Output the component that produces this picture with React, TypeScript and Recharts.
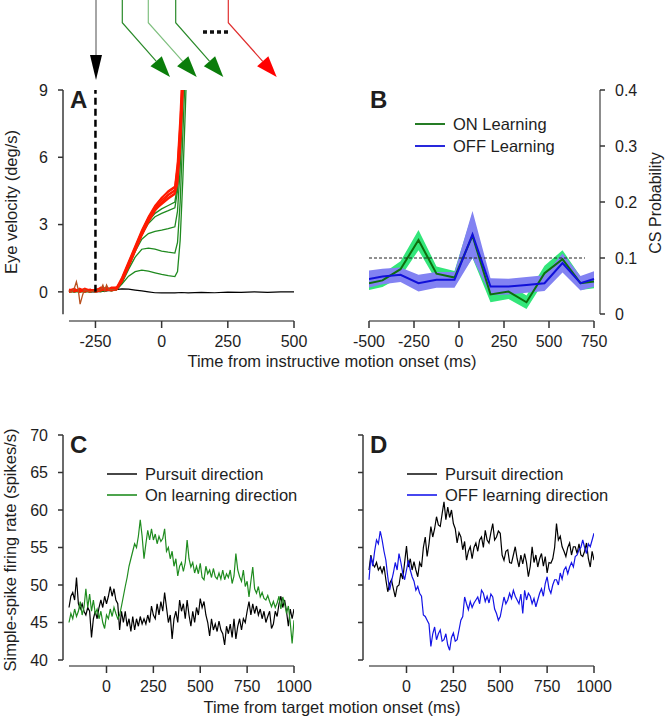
import { LineChart, Line, ComposedChart, Area, XAxis, YAxis, ReferenceLine } from 'recharts';

const FONT = '"Liberation Sans", Arial, Helvetica, sans-serif';
const INK = '#1e1e1e';
const AXIS_X = '#8a8a8a';
const AXIS_Y = '#3a3a3a';

// ---------- Panel A: eye velocity (deg/s) vs time (ms)
const tA = [-350, -330, -310, -290, -270, -250, -230, -210, -190, -170, -150, -125, -100, -75, -50, -25, 0, 25, 50, 60, 70, 80, 90, 100];
const red1 = [0.05, 0.1, 0.05, 0.1, 0.05, 0.1, 0.05, 0.15, 0.1, 0.15, 0.55, 1.25, 1.95, 2.65, 3.25, 3.75, 4.1, 4.35, 4.55, 5.3, 7.0, 9.6, 12, 14];
const red2 = [0.0, 0.05, 0.1, 0.0, 0.1, 0.05, 0.1, 0.1, 0.15, 0.1, 0.45, 1.1, 1.8, 2.5, 3.1, 3.6, 3.95, 4.2, 4.4, 5.0, 6.6, 9.2, 12, 14];
const red3 = [0.1, 0.0, 0.15, 0.05, 0.0, 0.1, 0.15, 0.05, 0.2, 0.2, 0.65, 1.35, 2.05, 2.75, 3.35, 3.85, 4.2, 4.45, 4.65, 5.6, 7.5, 10, 13, 15];
const red4 = [0.05, 0.15, 0.0, 0.1, 0.1, 0.0, 0.05, 0.2, 0.1, 0.15, 0.5, 1.2, 1.9, 2.6, 3.2, 3.7, 4.0, 4.3, 4.5, 5.2, 6.8, 9.4, 12, 14];
const red5 = [0.0, 0.05, 0.05, 0.15, 0.05, 0.1, 0.1, 0.1, 0.05, 0.1, 0.6, 1.3, 2.0, 2.7, 3.3, 3.8, 4.2, 4.5, 4.7, 5.8, 7.8, 10.5, 13, 15];
const red6 = [0.1, 0.1, 0.0, 0.05, 0.1, 0.05, 0.2, 0.15, 0.15, 0.2, 0.5, 1.15, 1.85, 2.55, 3.15, 3.65, 3.9, 4.15, 4.35, 4.8, 6.3, 8.8, 11.5, 14];
const green1 = [0, 0.05, 0.0, 0.05, 0.0, 0.05, 0.05, 0.1, 0.05, 0.1, 0.35, 0.7, 0.9, 0.97, 0.92, 0.85, 0.78, 0.72, 0.68, 0.9, 2.3, 5.0, 8.3, 12];
const green2 = [0, 0, 0.05, 0, 0.05, 0, 0.05, 0.05, 0.1, 0.1, 0.4, 1.0, 1.55, 1.9, 1.95, 1.9, 1.82, 1.77, 1.73, 2.2, 4.0, 7.0, 10, 13];
const green3 = [0.05, 0, 0, 0.05, 0, 0.05, 0, 0.1, 0.05, 0.1, 0.45, 1.1, 1.8, 2.35, 2.6, 2.7, 2.75, 2.82, 2.9, 3.6, 5.5, 8.5, 11.5, 14];
const green4 = [0, 0.05, 0, 0, 0.05, 0, 0.05, 0.05, 0.1, 0.15, 0.5, 1.2, 1.9, 2.55, 3.05, 3.35, 3.5, 3.62, 3.75, 4.5, 6.5, 9.5, 12.5, 15];
const green5 = [0.05, 0, 0.05, 0, 0, 0.05, 0.05, 0.1, 0.1, 0.15, 0.55, 1.25, 1.95, 2.6, 3.15, 3.5, 3.7, 3.85, 4.0, 4.8, 7.0, 10, 13, 15];

const tBlackA = [-275, -250, -225, -200, -175, -150, -125, -100, -75, -50, -25, 0, 25, 50, 75, 100, 150, 200, 250, 300, 350, 400, 450, 500];
const blackA = [0, 0, 0.02, 0.05, 0.1, 0.13, 0.12, 0.08, 0.04, 0.0, -0.04, -0.05, -0.04, -0.05, -0.03, -0.05, -0.02, -0.04, -0.01, -0.02, 0.0, -0.02, 0.0, 0.0];

const tBrown = [-350, -340, -330, -322, -315, -308, -300, -292, -285, -270, -250, -230, -222, -215, -208, -200, -190, -175];
const brownA = [0.05, 0.0, 0.15, 0.45, 0.1, -0.55, -0.2, 0.1, 0.05, 0.0, 0.05, 0.1, 0.3, 0.05, 0.3, 0.1, 0.1, 0.1];

// ---------- Panel B: CS probability per 100 ms bin
const tB = [-500, -425, -325, -225, -125, -25, 75, 175, 275, 375, 475, 575, 675, 750];
const onMean = [0.055, 0.06, 0.08, 0.132, 0.072, 0.065, 0.14, 0.035, 0.04, 0.021, 0.073, 0.098, 0.055, 0.058];
const onSem = [0.012, 0.012, 0.014, 0.018, 0.013, 0.012, 0.04, 0.014, 0.013, 0.012, 0.013, 0.016, 0.012, 0.012];
const offMean = [0.0625, 0.067, 0.07, 0.055, 0.061, 0.061, 0.142, 0.049, 0.049, 0.052, 0.055, 0.091, 0.055, 0.0625];
const offSem = [0.015, 0.014, 0.013, 0.015, 0.014, 0.014, 0.042, 0.015, 0.014, 0.014, 0.014, 0.017, 0.013, 0.014];

// ---------- Panels C and D: simple-spike firing rate, 10 ms samples from -200 to 1000 ms
const T0 = -200;
const DT = 10;
const pursuitC = [
  47.0, 48.5, 49.0, 48.0, 51.0, 47.5, 46.8, 47.5, 46.5, 46.0,
  47.0, 46.5, 43.0, 45.5, 46.5, 45.5, 47.0, 48.0, 47.0, 48.5,
  47.5, 48.5, 49.8, 48.5, 49.5, 48.0, 47.5, 44.0, 46.5, 45.0,
  46.5, 44.5, 45.5, 43.8, 45.8, 44.0, 45.5, 44.5, 45.8, 44.8,
  45.5, 44.8, 46.0, 45.0, 47.2, 46.0, 45.5, 47.5, 46.0, 47.8,
  46.5, 49.0, 47.0, 45.0, 46.0, 42.8, 45.5, 46.5, 45.0, 48.0,
  46.5, 47.5, 45.5, 48.0, 46.0, 44.5, 46.5, 45.0, 47.0, 46.0,
  48.2, 47.0, 47.8, 46.0, 45.0, 43.2, 45.5, 44.0, 44.8, 43.8,
  45.2, 44.0, 43.5, 42.0, 44.5, 43.5, 44.8, 43.0, 45.5, 42.8,
  44.5, 45.5, 44.0, 45.5, 45.0, 46.5, 47.8, 46.0, 47.5, 46.2,
  47.2, 46.0, 46.8, 45.5, 46.5, 45.0, 45.8, 46.5, 44.2, 44.8,
  46.5, 45.8, 47.5, 48.5, 47.0, 48.0, 46.5, 44.5, 46.8, 45.5,
  46.8,
];
const onLearnC = [
  45.0, 46.2, 45.5, 46.8, 45.8, 46.5, 47.8, 46.0, 47.0, 49.5,
  47.0, 48.8, 46.5, 48.0, 46.2, 46.8, 45.5, 46.5, 45.0, 44.2,
  46.0, 45.5, 46.8, 45.8, 47.0, 46.2, 45.5, 46.0, 47.2, 48.5,
  49.8, 51.0, 52.5, 53.5, 54.5, 55.5, 55.0, 56.5, 58.7, 56.5,
  53.5, 55.5, 57.3, 56.0, 57.5, 56.0, 56.8, 55.5, 56.5, 55.8,
  56.2, 57.5, 54.5, 55.0, 53.5, 54.5, 52.5, 53.5, 51.2, 52.5,
  53.0, 51.8, 53.0, 56.0, 53.5, 52.4, 53.0, 51.6, 52.5, 51.5,
  52.9, 51.0, 50.7, 52.5, 51.5, 52.0, 51.0, 52.2, 51.1, 50.8,
  51.6, 50.8, 52.0, 50.7, 51.5, 51.0, 52.0, 50.2, 51.2, 54.2,
  52.0, 51.1, 50.5, 52.0, 49.8, 50.5, 48.4, 50.5, 52.4, 49.5,
  48.9, 49.8, 48.4, 49.0, 48.2, 48.0, 48.6, 47.8, 47.1, 47.8,
  47.0, 47.6, 48.5, 46.8, 48.4, 47.5, 46.2, 47.2, 45.0, 42.2,
  45.3,
];
const pursuitD = [
  52.0, 54.0, 52.8, 52.4, 53.0, 52.0, 52.4, 51.6, 52.5, 50.7,
  49.1, 50.2, 50.7, 49.5, 48.4, 49.8, 50.0, 51.6, 50.8, 53.0,
  55.2, 52.4, 53.5, 52.0, 53.1, 52.0, 51.1, 53.0, 52.4, 55.0,
  56.4, 53.8, 55.5, 57.8, 56.4, 57.5, 59.1, 58.0, 57.8, 59.5,
  61.1, 58.7, 60.4, 59.0, 60.0, 58.2, 57.5, 55.6, 57.0, 56.4,
  54.7, 55.8, 53.3, 54.5, 55.1, 53.5, 55.0, 55.6, 54.5, 56.0,
  56.4, 55.0, 57.3, 56.0, 55.6, 57.0, 58.2, 56.0, 56.4, 57.2,
  56.9, 54.0, 53.3, 54.5, 54.7, 53.0, 52.9, 54.0, 55.1, 53.5,
  52.4, 54.0, 52.8, 54.2, 53.0, 51.1, 52.5, 55.1, 53.0, 54.0,
  52.4, 53.5, 54.2, 52.5, 53.8, 51.6, 53.0, 52.9, 53.5, 55.0,
  58.2, 56.0, 56.5, 55.1, 54.5, 53.8, 55.0, 55.6, 54.0, 55.1,
  55.1, 54.2, 55.5, 54.0, 53.8, 54.5, 55.6, 53.5, 52.4, 54.5,
  53.3,
];
const offLearnD = [
  50.7, 53.8, 52.5, 54.5, 56.0, 55.5, 57.2, 56.0, 54.5, 53.3,
  51.1, 49.3, 50.5, 51.6, 53.0, 52.0, 54.2, 53.0, 51.6, 50.7,
  52.0, 53.3, 52.0, 51.1, 50.5, 49.3, 49.8, 48.9, 48.5, 46.0,
  45.8, 45.3, 44.8, 41.8, 43.5, 44.4, 42.7, 43.5, 44.0, 42.5,
  42.7, 43.5, 42.0, 41.3, 43.0, 43.6, 42.5, 42.7, 44.0, 45.3,
  45.8, 48.4, 47.5, 46.7, 47.8, 47.0, 47.6, 48.0, 48.4, 47.5,
  49.3, 48.9, 47.8, 48.5, 47.6, 48.8, 48.4, 46.8, 46.2, 45.3,
  45.8, 47.1, 48.4, 47.5, 48.0, 48.9, 48.2, 49.3, 48.5, 48.0,
  47.5, 48.8, 46.2, 49.3, 48.0, 48.9, 48.5, 47.5, 48.2, 47.1,
  48.0, 48.9, 49.5, 48.5, 50.2, 51.1, 49.5, 48.9, 50.0, 50.7,
  50.7, 50.0, 51.6, 50.8, 52.0, 52.4, 51.5, 52.4, 53.0, 52.4,
  53.8, 54.0, 54.7, 55.0, 56.0, 55.0, 54.2, 55.5, 55.1, 56.0,
  56.9,
];

const rowsOf = (t: number[], v: number[]) => t.map((x, i) => ({ t: x, v: v[i] }));
const sampled = (v: number[]) => v.map((y, i) => ({ t: T0 + i * DT, v: y }));

const bRows = tB.map((t, i) => ({
  t,
  on: onMean[i],
  onBand: [onMean[i] - onSem[i], onMean[i] + onSem[i]],
  off: offMean[i],
  offBand: [offMean[i] - offSem[i], offMean[i] + offSem[i]],
}));

const tickStyle = { fill: INK, fontSize: 16, fontFamily: FONT };
const tickLine = { stroke: '#333', strokeWidth: 1.5 };

const RED = '#ff1a00';
const GREEN = '#1f8a1f';

function PanelA() {
  const reds = [red1, red2, red3, red4, red5, red6];
  const greens = [green1, green2, green3, green4, green5];
  return (
    <LineChart width={330} height={380} margin={{ top: 90, right: 36, bottom: 29, left: 13 }}>
      <XAxis
        dataKey="t"
        type="number"
        domain={[-372.6, 500]}
        ticks={[-250, 0, 250, 500]}
        allowDataOverflow
        axisLine={false}
        tickLine={tickLine}
        tickSize={7}
        tickMargin={8}
        tick={tickStyle}
        height={30}
      />
      <YAxis
        type="number"
        domain={[-1.3, 9]}
        ticks={[0, 3, 6, 9]}
        allowDataOverflow
        axisLine={false}
        tickLine={tickLine}
        tickSize={5}
        tickMargin={10}
        tick={tickStyle}
        width={50}
      />
      <ReferenceLine segment={[{ x: -372.6, y: -1 }, { x: -372.6, y: 9 }]} stroke={AXIS_Y} strokeWidth={1.5} ifOverflow="visible" />
      <ReferenceLine segment={[{ x: -350, y: -1.3 }, { x: 500, y: -1.3 }]} stroke={AXIS_X} strokeWidth={2} ifOverflow="visible" />
      <Line data={rowsOf(tBlackA, blackA)} dataKey="v" stroke="#000" strokeWidth={1.2} dot={false} activeDot={false} isAnimationActive={false} />
      {greens.map((g, i) => (
        <Line key={`g${i}`} data={rowsOf(tA, g)} dataKey="v" stroke={GREEN} strokeWidth={1.3} dot={false} activeDot={false} isAnimationActive={false} />
      ))}
      {reds.map((r, i) => (
        <Line key={`r${i}`} data={rowsOf(tA, r)} dataKey="v" stroke={RED} strokeWidth={1.6} dot={false} activeDot={false} isAnimationActive={false} />
      ))}
      <Line data={rowsOf(tBrown, brownA)} dataKey="v" stroke="#b8501e" strokeWidth={1.3} dot={false} activeDot={false} isAnimationActive={false} />
      <ReferenceLine segment={[{ x: -250, y: 0 }, { x: -250, y: 9 }]} stroke="#000" strokeWidth={2.5} strokeDasharray="7 4" ifOverflow="visible" />
    </LineChart>
  );
}

function PanelB() {
  return (
    <ComposedChart width={337} height={380} data={bRows} margin={{ top: 90, right: 7, bottom: 29, left: 39 }}>
      <XAxis
        dataKey="t"
        type="number"
        domain={[-500, 783.3]}
        ticks={[-500, -250, 0, 250, 500, 750]}
        allowDataOverflow
        axisLine={false}
        tickLine={tickLine}
        tickSize={7}
        tickMargin={8}
        tick={tickStyle}
        height={30}
      />
      <YAxis
        orientation="right"
        type="number"
        domain={[-0.0125, 0.4]}
        ticks={[0, 0.1, 0.2, 0.3, 0.4]}
        tickFormatter={(v: number) => (v === 0 ? '0' : v.toFixed(1))}
        allowDataOverflow
        axisLine={false}
        tickLine={tickLine}
        tickSize={5}
        tickMargin={10}
        tick={tickStyle}
        width={60}
      />
      <ReferenceLine segment={[{ x: 783.3, y: 0 }, { x: 783.3, y: 0.4 }]} stroke="#666" strokeWidth={1.5} ifOverflow="visible" />
      <ReferenceLine segment={[{ x: -500, y: -0.0125 }, { x: 750, y: -0.0125 }]} stroke={AXIS_X} strokeWidth={2} ifOverflow="visible" />
      <Area dataKey="onBand" type="linear" stroke="none" fill="#33e67a" fillOpacity={1} isAnimationActive={false} />
      <Line dataKey="on" type="linear" stroke="#0d6e0d" strokeWidth={2} dot={false} activeDot={false} isAnimationActive={false} />
      <Area dataKey="offBand" type="linear" stroke="none" fill="#8282f2" fillOpacity={1} isAnimationActive={false} />
      <Line dataKey="off" type="linear" stroke="#1010d8" strokeWidth={2} dot={false} activeDot={false} isAnimationActive={false} />
      <ReferenceLine segment={[{ x: -500, y: 0.1 }, { x: 700, y: 0.1 }]} stroke="#222" strokeWidth={1} strokeDasharray="3 2" ifOverflow="visible" />
    </ComposedChart>
  );
}

function RatePanel({ showLabels, a, b, colorB }: { showLabels: boolean; a: number[]; b: number[]; colorB: string }) {
  return (
    <LineChart
      width={showLabels ? 330 : 337}
      height={337}
      margin={{ top: 55, right: showLabels ? 36 : 73, bottom: 21, left: 13 }}
    >
      <XAxis
        dataKey="t"
        type="number"
        domain={[-232, 1000]}
        ticks={[0, 250, 500, 750, 1000]}
        allowDataOverflow
        axisLine={false}
        tickLine={tickLine}
        tickSize={7}
        tickMargin={8}
        tick={tickStyle}
        height={30}
      />
      <YAxis
        type="number"
        domain={[39.2, 70]}
        ticks={[40, 45, 50, 55, 60, 65, 70]}
        tickFormatter={showLabels ? undefined : () => ''}
        allowDataOverflow
        axisLine={false}
        tickLine={tickLine}
        tickSize={5}
        tickMargin={10}
        tick={tickStyle}
        width={showLabels ? 50 : 20}
      />
      <ReferenceLine segment={[{ x: -232, y: 40 }, { x: -232, y: 70 }]} stroke={AXIS_Y} strokeWidth={1.5} ifOverflow="visible" />
      <ReferenceLine segment={[{ x: -200, y: 39.2 }, { x: 1000, y: 39.2 }]} stroke={AXIS_X} strokeWidth={2} ifOverflow="visible" />
      <Line data={sampled(a)} dataKey="v" stroke="#000" strokeWidth={1.2} dot={false} activeDot={false} isAnimationActive={false} />
      <Line data={sampled(b)} dataKey="v" stroke={colorB} strokeWidth={1.2} dot={false} activeDot={false} isAnimationActive={false} />
    </LineChart>
  );
}

function Arrow({ x, tipX, head, line }: { x: number; tipX: number; head: string; line: string }) {
  const bendY = 22.7;
  const tipY = 77;
  const dx = tipX - x;
  const dy = tipY - bendY;
  const len = Math.hypot(dx, dy);
  const ux = dx / len;
  const uy = dy / len;
  const L = 21;
  const hw = 7.5;
  const bx = tipX - ux * L;
  const by = tipY - uy * L;
  return (
    <g>
      <polyline points={`${x},0 ${x},${bendY} ${bx},${by}`} fill="none" stroke={line} strokeWidth={1.2} />
      <polygon points={`${tipX},${tipY} ${bx - uy * hw},${by + ux * hw} ${bx + uy * hw},${by - ux * hw}`} fill={head} />
    </g>
  );
}

function LegendRow({ x, y, color, label }: { x: number; y: number; color: string; label: string }) {
  return (
    <g>
      <line x1={x} x2={x + 30} y1={y} y2={y} stroke={color} strokeWidth={1.8} />
      <text x={x + 38} y={y + 6} fontSize={16.5} fill={INK}>{label}</text>
    </g>
  );
}

export default function App() {
  return (
    <div style={{ position: 'absolute', left: 0, top: 0, width: 667, height: 717, background: '#fff', fontFamily: FONT }}>
      <div style={{ position: 'absolute', left: 0, top: 0 }}>
        <PanelA />
      </div>
      <div style={{ position: 'absolute', left: 330, top: 0 }}>
        <PanelB />
      </div>
      <div style={{ position: 'absolute', left: 0, top: 380 }}>
        <RatePanel showLabels a={pursuitC} b={onLearnC} colorB="#1f8c1f" />
      </div>
      <div style={{ position: 'absolute', left: 330, top: 380 }}>
        <RatePanel showLabels={false} a={pursuitD} b={offLearnD} colorB="#1414e6" />
      </div>

      <svg width={667} height={717} style={{ position: 'absolute', left: 0, top: 0, pointerEvents: 'none' }} fontFamily={FONT}>
        {/* stimulus arrows above panel A */}
        <line x1={96} x2={96} y1={0} y2={58} stroke="#888" strokeWidth={1.5} />
        <polygon points="90,55 102,55 96,80" fill="#000" />
        <Arrow x={122.3} tipX={170} head="#0a7d0a" line="#2a8a2a" />
        <Arrow x={148.3} tipX={196.7} head="#0a7d0a" line="#80c080" />
        <Arrow x={175.7} tipX={223.3} head="#0a7d0a" line="#2a8a2a" />
        <Arrow x={228.3} tipX={276.7} head="#ff0000" line="#e03030" />
        <line x1={203} x2={228} y1={32} y2={32} stroke="#111" strokeWidth={3.5} strokeDasharray="4 3" />

        {/* panel letters */}
        <text x={70} y={108} fontSize={24} fontWeight="bold" fill={INK}>A</text>
        <text x={370} y={108} fontSize={24} fontWeight="bold" fill={INK}>B</text>
        <text x={70} y={453} fontSize={24} fontWeight="bold" fill={INK}>C</text>
        <text x={370} y={453} fontSize={24} fontWeight="bold" fill={INK}>D</text>

        {/* axis titles */}
        <text x={11} y={202} fontSize={16.5} fill={INK} textAnchor="middle" dominantBaseline="central" transform="rotate(-90 11 202)">Eye velocity (deg/s)</text>
        <text x={655} y={203} fontSize={16} fill={INK} textAnchor="middle" dominantBaseline="central" transform="rotate(-90 655 203)">CS Probability</text>
        <text x={10} y={550} fontSize={16.5} fill={INK} textAnchor="middle" dominantBaseline="central" transform="rotate(-90 10 550)">Simple-spike firing rate (spikes/s)</text>
        <text x={332} y={367} fontSize={16.5} fill={INK} textAnchor="middle">Time from instructive motion onset (ms)</text>
        <text x={332} y={713} fontSize={16.5} fill={INK} textAnchor="middle">Time from target motion onset (ms)</text>

        {/* legends */}
        <LegendRow x={415} y={124} color="#0d6e0d" label="ON Learning" />
        <LegendRow x={415} y={146} color="#1010d8" label="OFF Learning" />
        <LegendRow x={107} y={474} color="#333" label="Pursuit direction" />
        <LegendRow x={107} y={495} color="#3a9a3a" label="On learning direction" />
        <LegendRow x={407} y={474} color="#333" label="Pursuit direction" />
        <LegendRow x={407} y={495} color="#3333ee" label="OFF learning direction" />
      </svg>
    </div>
  );
}
